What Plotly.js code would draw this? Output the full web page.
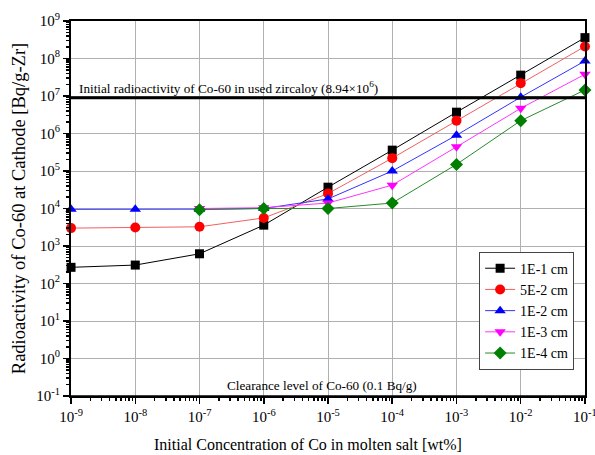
<!DOCTYPE html>
<html>
<head>
<meta charset="utf-8">
<script src="https://cdn.plot.ly/plotly-3.0.1.min.js"></script>
<style>html,body{margin:0;padding:0;background:#fff;}#chart{width:595px;height:455px;}</style>
</head>
<body>
<div id="chart"></div>
<script>
// Data
var concentration = [1e-9, 1e-8, 1e-7, 1e-6, 1e-5, 1e-4, 1e-3, 1e-2, 1e-1];
var concentrationLate = [1e-7, 1e-6, 1e-5, 1e-4, 1e-3, 1e-2, 1e-1];
var s1E1 = [270, 310, 620, 3600, 3.7e4, 3.6e5, 3.7e6, 3.6e7, 3.6e8];
var s5E2 = [3000, 3100, 3250, 5600, 2.5e4, 2.2e5, 2.2e6, 2.2e7, 2.1e8];
var s1E2 = [9500, 9500, 9600, 1.0e4, 1.8e4, 1.0e5, 9.0e5, 9.3e6, 8.6e7];
var s1E3 = [1.0e4, 1.05e4, 1.4e4, 4.2e4, 4.4e5, 4.7e6, 3.8e7];
var s1E4 = [9300, 1.0e4, 1.0e4, 1.4e4, 1.5e5, 2.2e6, 1.45e7];
var seriesNames = ["1E-1 cm", "5E-2 cm", "1E-2 cm", "1E-3 cm", "1E-4 cm"];
var initialLevel = 8.94e6;
var clearanceLevel = 0.1;
var xExponents = [-9, -8, -7, -6, -5, -4, -3, -2, -1];
var yExponents = [-1, 0, 1, 2, 3, 4, 5, 6, 7, 8, 9];

var font = "'Liberation Serif', 'Times New Roman', serif";

function mk(x, y, name, color, lineColor, symbol, size) {
  return {
    x: x, y: y, name: name, type: "scatter", mode: "lines+markers",
    line: {color: lineColor, width: 1},
    marker: {color: color, symbol: symbol, size: size},
    cliponaxis: false
  };
}

var data = [
  mk(concentration, s1E1, seriesNames[0], "#000000", "#000000", "square", 9),
  mk(concentration, s5E2, seriesNames[1], "#ff0000", "#f06060", "circle", 10),
  mk(concentration, s1E2, seriesNames[2], "#0000ff", "#3333ff", "triangle-up", 10),
  mk(concentrationLate, s1E3, seriesNames[3], "#ff00ff", "#ff33ff", "triangle-down", 10),
  mk(concentrationLate, s1E4, seriesNames[4], "#008000", "#2a8a2a", "diamond", 10)
];

var layout = {
  width: 595, height: 455,
  margin: {l: 71, r: 10, t: 21, b: 59},
  paper_bgcolor: "#fff", plot_bgcolor: "#fff",
  font: {family: font, size: 14, color: "#000"},
  showlegend: true,
  legend: {
    x: 0.794, y: 0.385, xanchor: "left", yanchor: "top",
    bgcolor: "#fff", bordercolor: "#444", borderwidth: 1,
    font: {family: font, size: 14, color: "#000"},
    tracegroupgap: 0, itemwidth: 30
  },
  xaxis: {
    type: "log", range: [-9.0004, -0.9996],
    tickvals: xExponents.map(function(e){return Math.pow(10, e);}),
    ticktext: xExponents.map(function(e){return "10<sup>" + e + "</sup>";}),
    ticks: "outside", ticklen: 6, tickwidth: 1.5, tickcolor: "#000",
    ticklabeloverflow: "allow",
    minor: {ticks: "outside", ticklen: 3, tickcolor: "#000", dtick: "D1", showgrid: false},
    showline: true, linecolor: "#000", linewidth: 2, mirror: true,
    showgrid: true, gridcolor: "#b0b0b0", gridwidth: 1,
    zeroline: false,
    tickfont: {family: font, size: 15}
  },
  yaxis: {
    type: "log", range: [-1, 9],
    tickvals: yExponents.map(function(e){return Math.pow(10, e);}),
    ticktext: yExponents.map(function(e){return "10<sup>" + e + "</sup>";}),
    ticks: "outside", ticklen: 6, tickwidth: 1.5, tickcolor: "#000",
    minor: {ticks: "outside", ticklen: 3, tickcolor: "#000", dtick: "D1", showgrid: false},
    showline: true, linecolor: "#000", linewidth: 2, mirror: true,
    showgrid: true, gridcolor: "#b0b0b0", gridwidth: 1,
    zeroline: false,
    tickfont: {family: font, size: 15},
    title: {text: "Radioactivity of Co-60 at Cathode [Bq/g-Zr]", font: {family: font, size: 18.5}, standoff: 6}
  },
  shapes: [
    {type: "line", xref: "paper", x0: 0, x1: 1, yref: "y", y0: initialLevel, y1: initialLevel,
     line: {color: "#000", width: 3}},
    {type: "line", xref: "paper", x0: 0, x1: 1, yref: "y", y0: clearanceLevel, y1: clearanceLevel,
     line: {color: "#000", width: 1.5}}
  ],
  annotations: [
    {xref: "paper", x: 0.012, xanchor: "left", yref: "y", y: Math.log10(initialLevel), yanchor: "bottom",
     yshift: 0, showarrow: false,
     text: "Initial radioactivity of Co-60 in used zircaloy (8.94×10<sup>6</sup>)",
     font: {family: font, size: 13.2, color: "#000"}},
    {xref: "paper", x: 0.488, xanchor: "center", yref: "y", y: Math.log10(clearanceLevel), yanchor: "bottom",
     yshift: 1, showarrow: false,
     text: "Clearance level of Co-60 (0.1 Bq/g)",
     font: {family: font, size: 13.2, color: "#000"}},
    {xref: "paper", x: 0.1576, xanchor: "left", yref: "paper", y: -0.128, yanchor: "middle",
     showarrow: false,
     text: "Initial Concentration of Co in molten salt [wt%]",
     font: {family: font, size: 16, color: "#000"}}
  ]
};

Plotly.newPlot("chart", data, layout, {displayModeBar: false, staticPlot: true});
</script>
</body>
</html>
